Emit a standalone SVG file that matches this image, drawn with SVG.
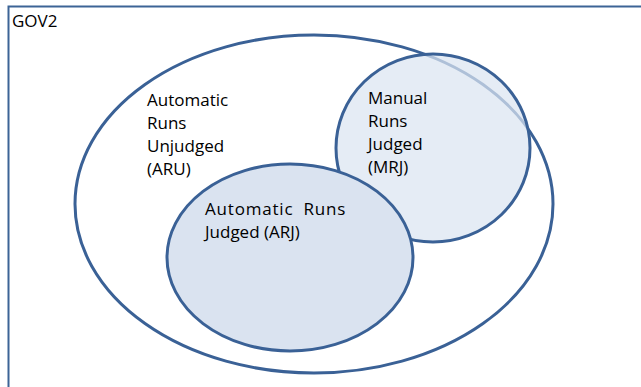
<svg xmlns="http://www.w3.org/2000/svg" width="641" height="387" viewBox="0 0 641 387">
  <style>
    .lbl { font-family: "Open Sans", "Liberation Sans", sans-serif; font-size: 17px; fill: #000; }
    .edge { stroke: #3a6196; stroke-width: 3; }
  </style>
  <rect width="641" height="387" fill="#fff"/>
  <!-- frame for the GOV2 collection -->
  <g id="gov2">
    <path d="M8.5 400 V6.5 H660" fill="none" stroke="#3c6496" stroke-width="2"/>
    <text class="lbl" x="12" y="27" font-size="16">GOV2</text>
  </g>
  <!-- all automatic runs -->
  <g id="aru">
    <ellipse class="edge" cx="314" cy="204" rx="239" ry="169" fill="#fff"/>
    <text class="lbl" x="147" y="106">Automatic</text>
    <text class="lbl" x="147" y="129">Runs</text>
    <text class="lbl" x="147" y="152">Unjudged</text>
    <text class="lbl" x="147" y="175">(ARU)</text>
  </g>
  <!-- manual runs, translucent so the outer outline shows through -->
  <g id="mrj">
    <ellipse cx="433" cy="148" rx="97" ry="94" fill="#dbe4f1" fill-opacity="0.72"/>
    <ellipse class="edge" cx="433" cy="148" rx="97" ry="94" fill="none"/>
    <text class="lbl" x="368" y="104">Manual</text>
    <text class="lbl" x="368" y="127">Runs</text>
    <text class="lbl" x="368" y="150">Judged</text>
    <text class="lbl" x="368" y="173">(MRJ)</text>
  </g>
  <!-- judged automatic runs -->
  <g id="arj">
    <ellipse class="edge" cx="290" cy="257.5" rx="123" ry="93.5" fill="#dae3f0"/>
    <text class="lbl" x="205" y="215" word-spacing="5" letter-spacing="0.8">Automatic Runs</text>
    <text class="lbl" x="205" y="238">Judged (ARJ)</text>
  </g>
  <g id="connectors"/>
</svg>
